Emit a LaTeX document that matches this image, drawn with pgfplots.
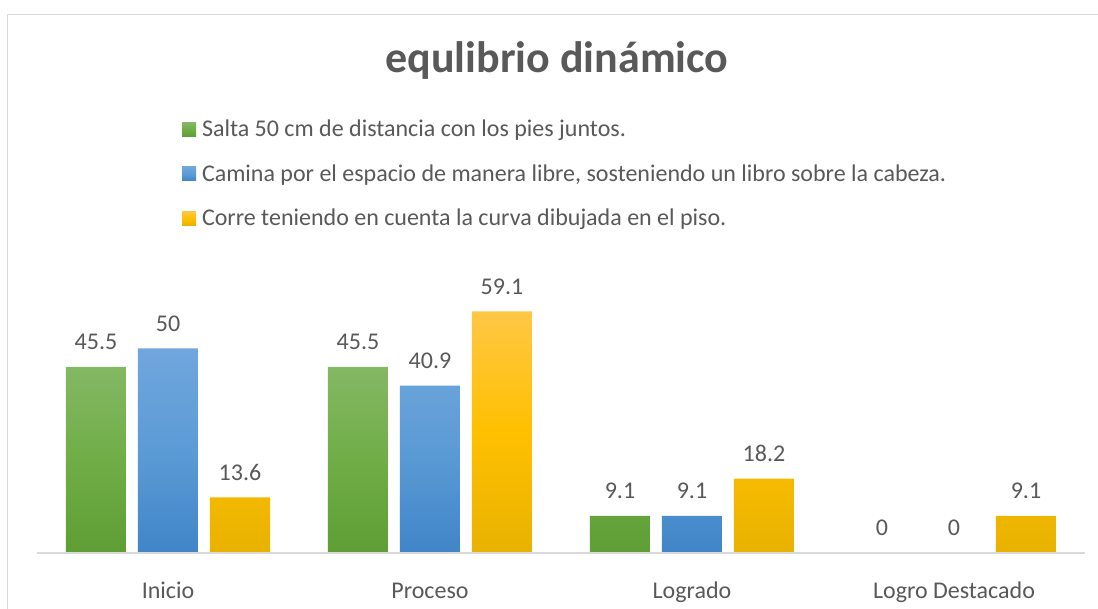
\documentclass[border=0pt]{standalone}
\usepackage{pgfplots}
\pgfplotsset{compat=1.18}
\usepackage{fontspec}
\setmainfont{Carlito}
\definecolor{txt}{HTML}{595959}
\definecolor{gT}{HTML}{84B864}
\definecolor{gM}{HTML}{70AD47}
\definecolor{gB}{HTML}{5E9E34}
\definecolor{bT}{HTML}{70A6DD}
\definecolor{bM}{HTML}{5B9BD5}
\definecolor{bB}{HTML}{4185C8}
\definecolor{yT}{HTML}{FFC745}
\definecolor{yM}{HTML}{FFC000}
\definecolor{yB}{HTML}{E8B200}
\definecolor{frm}{HTML}{D9D9D9}
\begin{document}
\begin{tikzpicture}[x=1pt,y=1pt]
\path[use as bounding box] (0,0) rectangle (1098,608);
\clip (0,0) rectangle (1098,608);
\fill[white] (0,0) rectangle (1098,608);
\draw[frm, line width=1.4pt] (7.5,-20) -- (7.5,593.5) -- (1120,593.5);
\node[text=txt, font=\fontsize{44}{52}\selectfont\bfseries, anchor=base, inner sep=0pt] at (557,535) {equlibrio dinámico};
\begin{axis}[
  scale only axis, width=1048pt, height=265.85pt,
  at={(37pt,55pt)}, anchor=south west,
  xmin=-0.5, xmax=3.5, ymin=0, ymax=65,
  ybar=12pt, bar width=60pt,
  axis on top,
  hide y axis, axis x line*=bottom,
  x axis line style={draw=frm, line width=1.8pt},
  xtick={0,1,2,3}, xticklabels={Inicio, Proceso, Logrado, Logro Destacado},
  xtick style={draw=none},
  xticklabel style={font=\fontsize{24}{28.8}\selectfont, text=txt, anchor=base, yshift=-41pt, inner sep=0pt},
  /pgf/number format/assume math mode=true,
  nodes near coords,
  every node near coord/.append style={font=\fontsize{24}{28.8}\selectfont, text=txt, anchor=base, yshift=17pt, inner sep=0pt},
  legend style={draw=none, fill=none, inner sep=0pt, outer sep=0pt,
    at={(0.13836,1.6242)}, anchor=north west,
    font=\fontsize{24}{28.8}\selectfont, text=txt,
    nodes={inner sep=0pt, text height=15.5pt, text depth=5pt},
    row sep=24pt, column sep=6pt},
  legend cell align=left,
  legend image code/.code={\fill[#1] (0pt,-5pt) rectangle (14pt,9pt);},
]
\addplot[draw=none, top color=gT, bottom color=gB, middle color=gM] coordinates {(0,45.5) (1,45.5) (2,9.1) (3,0)};
\addlegendentry{Salta 50 cm de distancia con los pies juntos.}
\addplot[draw=none, top color=bT, bottom color=bB, middle color=bM] coordinates {(0,50) (1,40.9) (2,9.1) (3,0)};
\addlegendentry{Camina por el espacio de manera libre, sosteniendo un libro sobre la cabeza.}
\addplot[draw=none, top color=yT, bottom color=yB, middle color=yM] coordinates {(0,13.6) (1,59.1) (2,18.2) (3,9.1)};
\addlegendentry{Corre teniendo en cuenta la curva dibujada en el piso.}
\end{axis}
\end{tikzpicture}
\end{document}
